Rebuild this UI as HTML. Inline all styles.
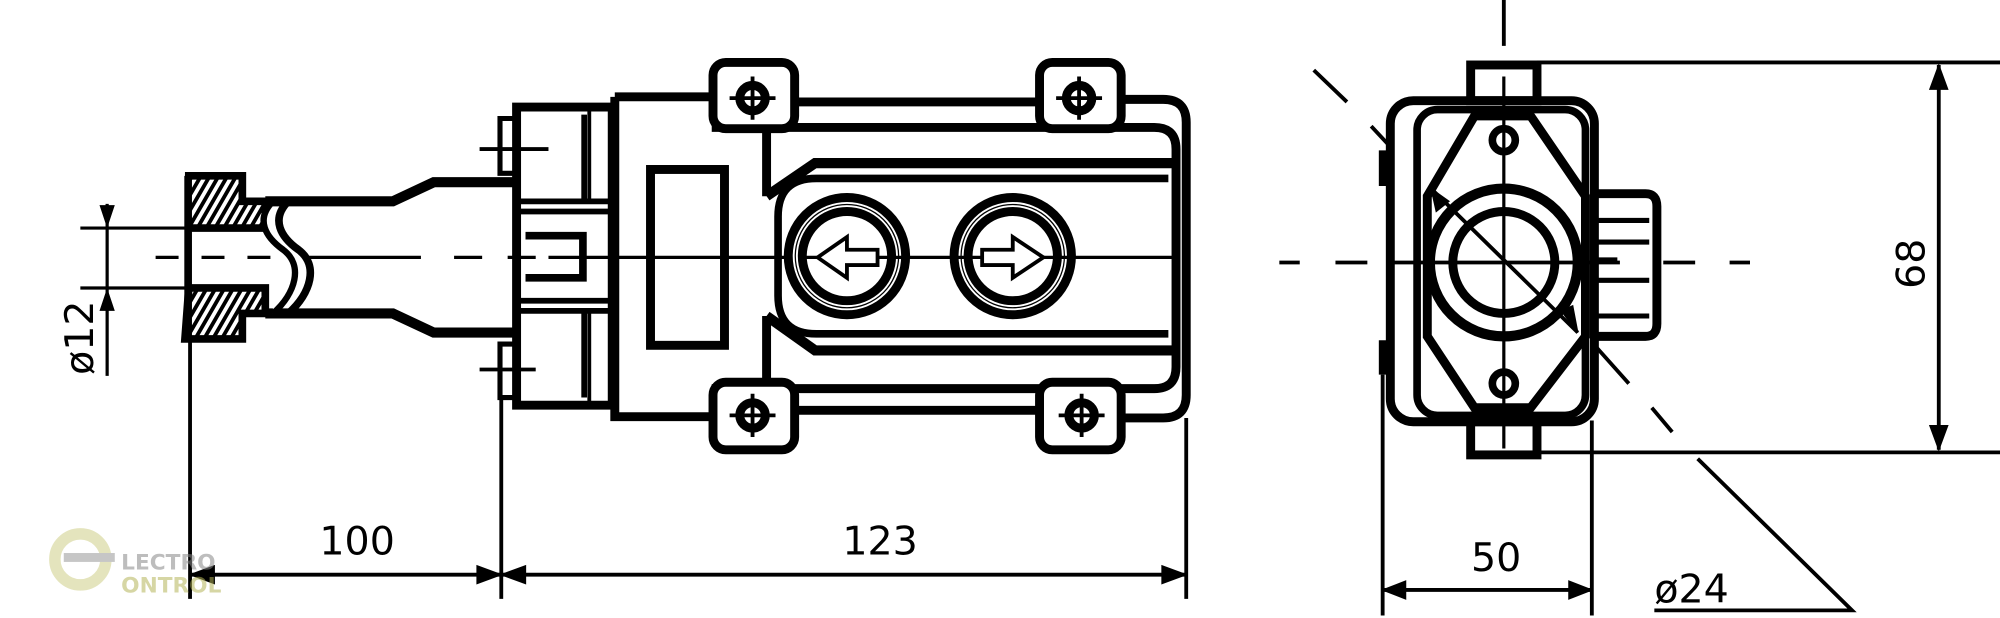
<!DOCTYPE html>
<html><head><meta charset="utf-8"><style>
html,body{margin:0;padding:0;background:#fff;width:2000px;height:618px;overflow:hidden}
svg{display:block}
text{font-family:"DejaVu Sans","Liberation Sans",sans-serif;fill:#000}
</style></head><body>
<svg width="2000" height="618" viewBox="0 0 1568 485" preserveAspectRatio="none" xmlns="http://www.w3.org/2000/svg">
<defs>
<pattern id="h" width="6" height="6" patternUnits="userSpaceOnUse" patternTransform="rotate(30)">
<rect width="6" height="6" fill="#fff"/><rect width="3" height="6" fill="#000"/></pattern>
</defs>
<g fill="none" stroke="#000" stroke-linejoin="miter">
<path d="M122 202H140M158 202H176M194 202H212M240 202H330M356 202H378M398 202H420M430 202H620M630 202H648M658 202H920" stroke-width="2.5"/>
<path d="M145 138H190V158H208V179H148M148 226H208V246H190V266H145Z" stroke-width="6" fill="url(#h)"/>
<path d="M147.5 138V266" stroke-width="6"/>
<path d="M208 158H308L340 143H403" stroke-width="8"/>
<path d="M208 246H308L340 261H403" stroke-width="8"/>
<path d="M214 158C200 172 208 186 222 196C238 208 232 230 214 246" stroke-width="5" fill="#fff"/>
<path d="M226 158C212 172 220 186 234 196C250 208 244 230 226 246" stroke-width="6"/>
<path d="M63 179H148M63 226H148M84 160V295" stroke-width="2.5"/>
<path d="M78 161H90L84 179ZM78 244H90L84 226Z" fill="#000" stroke="none"/>
<path d="M392 93H405V136H392ZM392 270H405V312H392Z" stroke-width="4"/>
<path d="M376 117H430M376 290H420" stroke-width="3"/>
<path d="M405 84H480V318H405Z" stroke-width="7"/>
<path d="M458 90V158M458 243V312M405 158H480M405 166H480M405 236H480M405 244H480" stroke-width="4.5"/>
<path d="M412 185H457V218H412" stroke-width="6"/>
<path d="M462 84V158M462 243V318" stroke-width="3"/>
<path d="M482 76H558M482 76V327H558M601 103V154M601 248V300" stroke-width="7"/>
<rect x="510" y="133" width="58" height="138" stroke-width="7"/>
<path d="M880 78H912Q930 78 930 96V310Q930 328 912 328H880" stroke-width="7"/>
<path d="M623 80H813M623 322H813" stroke-width="7"/>
<path d="M558 100H905Q922 100 922 117V288Q922 305 905 305H558" stroke-width="7"/>
<path d="M601 154L639 128H920" stroke-width="8"/>
<path d="M601 248L639 275H920" stroke-width="8"/>
<path d="M916 140H640Q610 140 610 170V232Q610 262 640 262H916" stroke-width="6"/>
<circle cx="664" cy="201" r="46" stroke-width="7"/>
<circle cx="664" cy="201" r="35" stroke-width="7"/>
<circle cx="664" cy="201" r="40.5" stroke-width="1"/>
<circle cx="794" cy="201" r="46" stroke-width="7"/>
<circle cx="794" cy="201" r="35" stroke-width="7"/>
<circle cx="794" cy="201" r="40.5" stroke-width="1"/>
<path d="M641 202L664 186V196H688V208H664V218Z" stroke-width="3" fill="#fff"/>
<path d="M818 202L794 186V196H770V208H794V218Z" stroke-width="3" fill="#fff"/>
<rect x="559" y="49" width="64" height="52" rx="10" stroke-width="7" fill="#fff"/>
<rect x="815" y="49" width="64" height="52" rx="10" stroke-width="7" fill="#fff"/>
<rect x="559" y="300" width="64" height="53" rx="10" stroke-width="7" fill="#fff"/>
<rect x="815" y="300" width="64" height="53" rx="10" stroke-width="7" fill="#fff"/>
<g stroke-width="7"><circle cx="590" cy="77" r="10"/><circle cx="846" cy="77" r="10"/><circle cx="590" cy="326" r="10"/><circle cx="848" cy="326" r="10"/></g>
<path d="M572 77H608M590 60V94M828 77H864M846 60V94M572 326H608M590 309V343M830 326H866M848 309V343" stroke-width="3"/>
<path d="M149 266V470M393 312V470M930 328V470" stroke-width="3"/>
<path d="M149 451H930" stroke-width="3"/>
<path d="M149 451L168 444V458ZM393 451L374 444V458ZM393 451L412 444V458ZM930 451L911 444V458Z" fill="#000"/>
<path d="M1179 0V36" stroke-width="3"/>
<path d="M1179 60V352" stroke-width="2.5"/>
<path d="M1003 206H1019M1047 206H1072M1090 206H1270M1304 206H1329M1356 206H1372" stroke-width="3"/>
<rect x="1153" y="51" width="52" height="28" stroke-width="7" fill="none"/>
<rect x="1153" y="331" width="52" height="26" stroke-width="7" fill="none"/>
<path d="M1205 49H1568M1205 355H1568" stroke-width="3"/>
<rect x="1090" y="79" width="160" height="252" rx="18" stroke-width="7"/>
<rect x="1111" y="86" width="132" height="240" rx="16" stroke-width="6"/>
<path d="M1156 91H1200L1243 154V264L1200 320H1156L1119 264V154Z" stroke-width="7"/>
<circle cx="1179" cy="110" r="9" stroke-width="6"/>
<circle cx="1179" cy="301" r="9" stroke-width="6"/>
<circle cx="1179" cy="206" r="58" stroke-width="8"/>
<circle cx="1179" cy="206" r="40" stroke-width="7"/>
<path d="M1252 152H1290Q1299 152 1299 162V254Q1299 264 1290 264H1252" stroke-width="7"/>
<path d="M1252 173H1293M1252 190H1293M1252 220H1293M1252 248H1293M1252 204H1268" stroke-width="4"/>
<path d="M1081 118H1088V146H1081ZM1081 267H1088V294H1081Z" fill="#000" stroke="none"/>
<path d="M1084 294V483M1248 330V483" stroke-width="3"/>
<path d="M1084 463H1248" stroke-width="3"/>
<path d="M1084 463L1102 456V470ZM1248 463L1230 456V470Z" fill="#000"/>
<path d="M1520 51V353" stroke-width="3"/>
<path d="M1520 51L1513 70H1527ZM1520 353L1513 334H1527Z" fill="#000"/>
<path d="M1030 55L1056 80M1075 99L1088 113M1122 148L1237 261M1252 273L1277 301M1295 320L1311 339" stroke-width="3"/>
<path d="M1122 148L1126 166L1136 158ZM1237 261L1224 244L1233 240Z" fill="#000"/>
<path d="M1331 360L1452 479H1297" stroke-width="3"/>
</g>
<g opacity="0.55">
<circle cx="63" cy="439" r="20" fill="none" stroke="#cfcf88" stroke-width="9"/>
<rect x="50" y="434" width="40" height="7" fill="#999"/>
<text x="95" y="447" font-size="17" font-weight="bold" style="fill:#888">LECTRO</text>
<text x="95" y="465" font-size="17" font-weight="bold" style="fill:#b5b55a">ONTROL</text>
</g>
<text x="280" y="435" font-size="31" text-anchor="middle">100</text>
<text x="690" y="435" font-size="31" text-anchor="middle">123</text>
<text x="1173" y="448" font-size="31" text-anchor="middle">50</text>
<text x="1297" y="473" font-size="31">ø24</text>
<text transform="translate(1509,207) rotate(-90)" font-size="31" text-anchor="middle">68</text>
<text transform="translate(73,265) rotate(-90)" font-size="31" text-anchor="middle">ø12</text>
</svg>
</body></html>
